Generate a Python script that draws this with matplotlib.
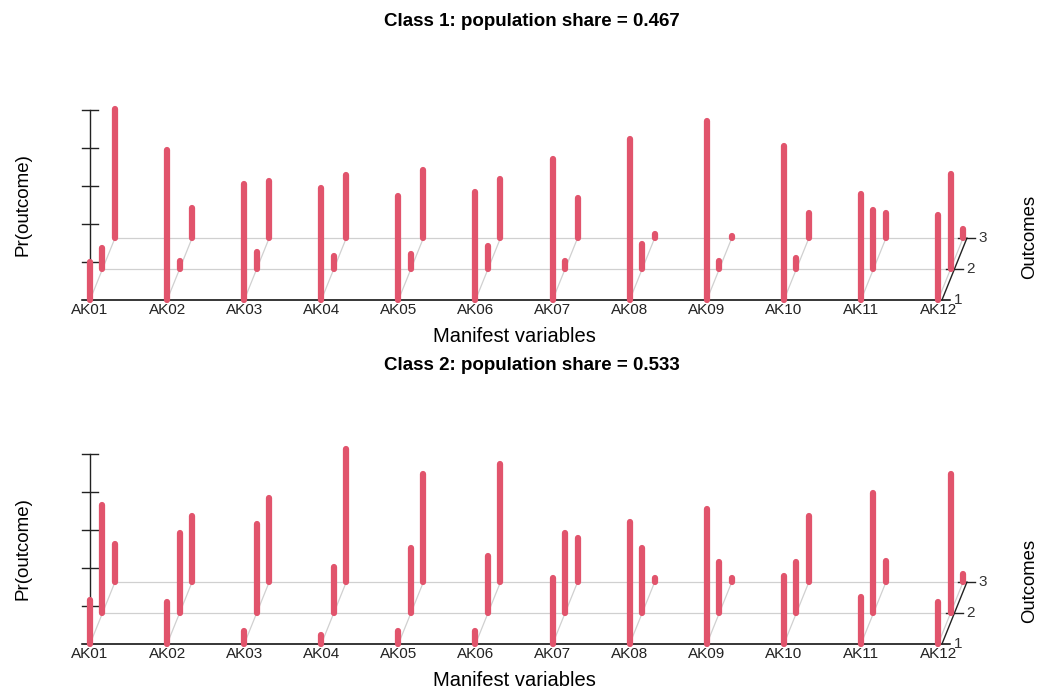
import numpy as np
import matplotlib.pyplot as plt

plt.rcParams['font.family'] = ['Liberation Sans', 'DejaVu Sans']

variables = ["AK01", "AK02", "AK03", "AK04", "AK05", "AK06",
             "AK07", "AK08", "AK09", "AK10", "AK11", "AK12"]
outcomes = ["1", "2", "3"]

# Pr(outcome) per variable, columns = outcome 1, 2, 3
class1 = [[0.20, 0.11, 0.68], [0.79, 0.04, 0.16], [0.61, 0.09, 0.30],
          [0.59, 0.07, 0.33], [0.55, 0.08, 0.36], [0.57, 0.12, 0.31],
          [0.74, 0.04, 0.21], [0.85, 0.13, 0.02], [0.94, 0.04, 0.01],
          [0.81, 0.06, 0.13], [0.56, 0.31, 0.13], [0.45, 0.50, 0.05]]
class2 = [[0.23, 0.57, 0.20], [0.22, 0.42, 0.35], [0.07, 0.47, 0.44],
          [0.05, 0.24, 0.70], [0.07, 0.34, 0.57], [0.07, 0.30, 0.62],
          [0.35, 0.42, 0.23], [0.64, 0.34, 0.02], [0.71, 0.27, 0.02],
          [0.36, 0.27, 0.35], [0.25, 0.63, 0.11], [0.22, 0.73, 0.04]]
shares = [0.467, 0.533]

W, H = 1038, 688
X0, XS, YS = 90, 77.1, 190      # pixel of AK01, px per variable, px per unit prob
DX, DY = 0.162, 0.163           # depth offset per outcome (data units)
BAR = '#E1546C'
GRID = '#D0D0D0'
AX = '#222222'

fig = plt.figure(figsize=(W / 100, H / 100), dpi=100)


def panel(base, probs, title):
    L, R = 40, 1038
    T, B = base - 290, base + 50
    ax = fig.add_axes([L / W, 1 - B / H, (R - L) / W, (B - T) / H])
    ax.set_xlim(1 + (L - X0) / XS, 1 + (R - X0) / XS)
    ax.set_ylim((base - B) / YS, (base - T) / YS)
    ax.axis('off')

    n = len(variables)
    xend = n + 0.05
    tk = 0.11
    # grid lines in the floor
    for k in (1, 2):
        ax.plot([1 + k * DX, xend + k * DX - tk], [k * DY, k * DY], color=GRID, lw=0.9, zorder=1)
    for j in range(n):
        x = j + 1
        ax.plot([x, x + 2 * DX], [0, 2 * DY], color=GRID, lw=0.9, zorder=1)
    # axes
    ax.plot([1 - tk, xend + tk], [0, 0], color='black', lw=1.1, zorder=2)
    ax.plot([1, 1], [0, 1.0], color=AX, lw=1.0, zorder=2)
    for t in [0.2, 0.4, 0.6, 0.8, 1.0]:
        ax.plot([1 - tk, 1 + tk], [t, t], color=AX, lw=1.0, zorder=2)
    ax.plot([xend, xend + 2 * DX], [0, 2 * DY], color=AX, lw=1.0, zorder=2)
    for k, lab in enumerate(outcomes):
        if k > 0:
            ax.plot([xend + k * DX - tk, xend + k * DX + tk], [k * DY, k * DY], color=AX, lw=1.0, zorder=2)
        ax.text(xend + k * DX + 0.21, k * DY, lab, fontsize=11, color='#333333',
                ha='center', va='center')
    # bars
    for j in range(n):
        for k in range(3):
            x = j + 1 + k * DX
            y0 = k * DY
            ax.plot([x, x], [y0, y0 + probs[j][k]], color=BAR, lw=4.5,
                    solid_capstyle='round', zorder=3 + k)
        ax.text(j + 1, -10 / YS, variables[j], fontsize=11, color='#222222',
                ha='center', va='center')

    fig.text(532 / W, 1 - (base - 278) / H, title, fontsize=13.5, fontweight='bold',
             ha='center', va='center')
    fig.text(514 / W, 1 - (base + 36) / H, "Manifest variables", fontsize=14.5,
             ha='center', va='center')
    fig.text(23 / W, 1 - (base - 95) / H, "Pr(outcome)", fontsize=13.5, rotation=90,
             ha='center', va='center')
    fig.text(1030 / W, 1 - (base - 63) / H, "Outcomes", fontsize=13.3, rotation=90,
             ha='center', va='center')


panel(300, class1, f"Class 1: population share = {shares[0]:.3f}")
panel(644, class2, f"Class 2: population share = {shares[1]:.3f}")

fig.savefig("out.png", dpi=100)
